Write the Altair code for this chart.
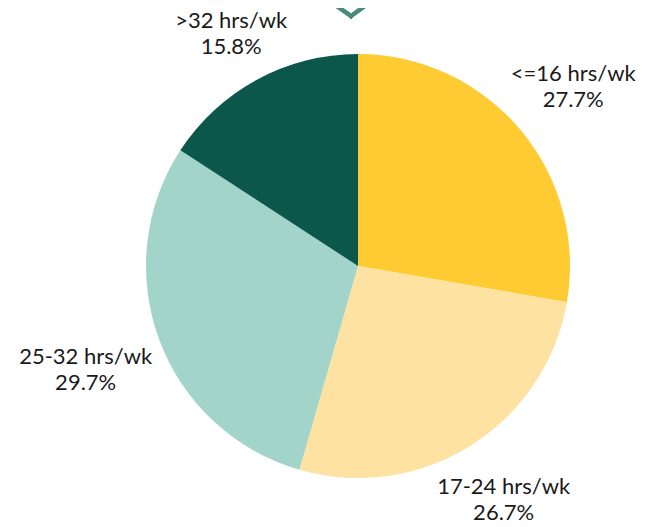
import altair as alt
import pandas as pd

categories = ["<=16 hrs/wk", "17-24 hrs/wk", "25-32 hrs/wk", ">32 hrs/wk"]
values = [27.7, 26.7, 29.7, 15.8]
order = [0, 1, 2, 3]
colors = ["#FFCB33", "#FDE2A1", "#A3D4C9", "#0B574B"]

df = pd.DataFrame({"cat": categories, "value": values, "order": order})

W, H = 580, 516
R = 212

pie = alt.Chart(df).mark_arc(outerRadius=R).encode(
    theta=alt.Theta("value:Q", stack=True),
    order=alt.Order("order:Q"),
    color=alt.Color("cat:N", scale=alt.Scale(domain=categories, range=colors), legend=None),
)

labels = (
    alt.Chart(df)
    .transform_joinaggregate(total="sum(value)")
    .transform_window(cum="sum(value)", sort=[alt.SortField("order")], frame=[None, 0])
    .transform_calculate(
        ang="(datum.cum - datum.value / 2) / datum.total * 2 * PI",
        lr=f"{R} + 8 + 5.6 * length(datum.cat) * abs(sin(datum.ang)) + 22 * abs(cos(datum.ang))",
        txt="[datum.cat, format(datum.value, '.1f') + '%']",
    )
    .mark_text(font="Lato", fontSize=22, color="#1a1a1a", lineHeight=26,
               baseline="middle", align="center", dy=-11)
    .encode(
        theta=alt.Theta("ang:Q", scale=None, stack=None),
        radius=alt.Radius("lr:Q", scale=None),
        text=alt.Text("txt:N"),
    )
)

chev_l = alt.Chart(df).mark_rule(color="#4B8B79", strokeWidth=4, strokeCap="square").encode(
    x=alt.value(246), y=alt.value(-18), x2=alt.value(283), y2=alt.value(8)
)
chev_r = alt.Chart(df).mark_rule(color="#4B8B79", strokeWidth=4, strokeCap="square").encode(
    x=alt.value(283), y=alt.value(8), x2=alt.value(319), y2=alt.value(-18)
)

chart = (
    alt.layer(pie, labels, chev_l, chev_r)
    .properties(
        width=W,
        height=H,
        autosize=alt.AutoSizeParams(type="none"),
        padding={"left": 60, "top": 0, "right": 0, "bottom": 10},
    )
    .configure_view(stroke=None)
)

chart.save("out.html", embed_options={"renderer": "svg", "actions": False})
